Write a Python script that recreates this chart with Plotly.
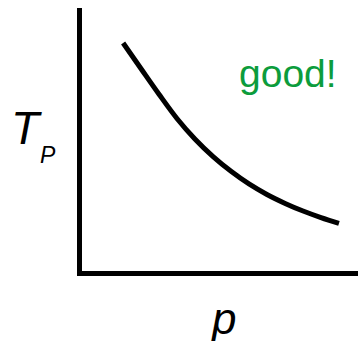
import plotly.graph_objects as go

# data (arbitrary units)
p_vals = [1.49, 2.14, 2.79, 3.44, 4.09, 4.75, 5.40, 6.05, 6.70, 7.36, 8.01, 8.66, 9.31]
T_vals = [8.67, 7.69, 6.72, 5.80, 5.02, 4.35, 3.79, 3.31, 2.91, 2.57, 2.28, 2.03, 1.81]

x_label = "p"
y_label_main = "T"
y_label_sub = "P"
note = "good!"

fig = go.Figure()
fig.add_trace(go.Scatter(x=p_vals, y=T_vals, mode="lines",
                         line=dict(color="black", width=5, shape="spline"),
                         hoverinfo="skip", showlegend=False))

font = "Liberation Sans, Arial, sans-serif"
W, H = 358, 341
L, T, B = 82, 8, 70
PW = W - L
PH = H - T - B

def px(dx):   # px offset from plot left edge -> paper x
    return dx / PW

def py(page_y):   # page y (from top) -> paper y
    return (H - B - page_y) / PH

fig.update_layout(
    width=W, height=H,
    margin=dict(l=L, r=0, t=T, b=B, pad=0),
    paper_bgcolor="white", plot_bgcolor="white",
    xaxis=dict(range=[0, 10], showline=True, linewidth=5, linecolor="black",
               showgrid=False, zeroline=False, showticklabels=False, ticks=""),
    yaxis=dict(range=[0, 10], showline=True, linewidth=5, linecolor="black",
               showgrid=False, zeroline=False, showticklabels=False, ticks=""),
    annotations=[
        dict(text="<i>%s</i>" % y_label_main, xref="paper", yref="paper",
             x=px(-73), y=py(128), xanchor="left", yanchor="middle", showarrow=False,
             font=dict(family=font, size=46, color="black")),
        dict(text="<i>%s</i>" % y_label_sub, xref="paper", yref="paper",
             x=px(-44), y=py(155), xanchor="left", yanchor="middle", showarrow=False,
             font=dict(family=font, size=23, color="black")),
        dict(text="<i>%s</i>" % x_label, xref="paper", yref="paper",
             x=px(141), y=py(318), xanchor="center", yanchor="middle", showarrow=False,
             font=dict(family=font, size=44, color="black")),
        dict(text=note, xref="paper", yref="paper",
             x=px(155), y=py(73), xanchor="left", yanchor="middle", showarrow=False,
             font=dict(family=font, size=39, color="#0c9c3c")),
    ],
)
fig.write_html("out.html", config={"displayModeBar": False},
               post_script="document.body.style.margin='0';document.body.style.overflow='hidden';")
